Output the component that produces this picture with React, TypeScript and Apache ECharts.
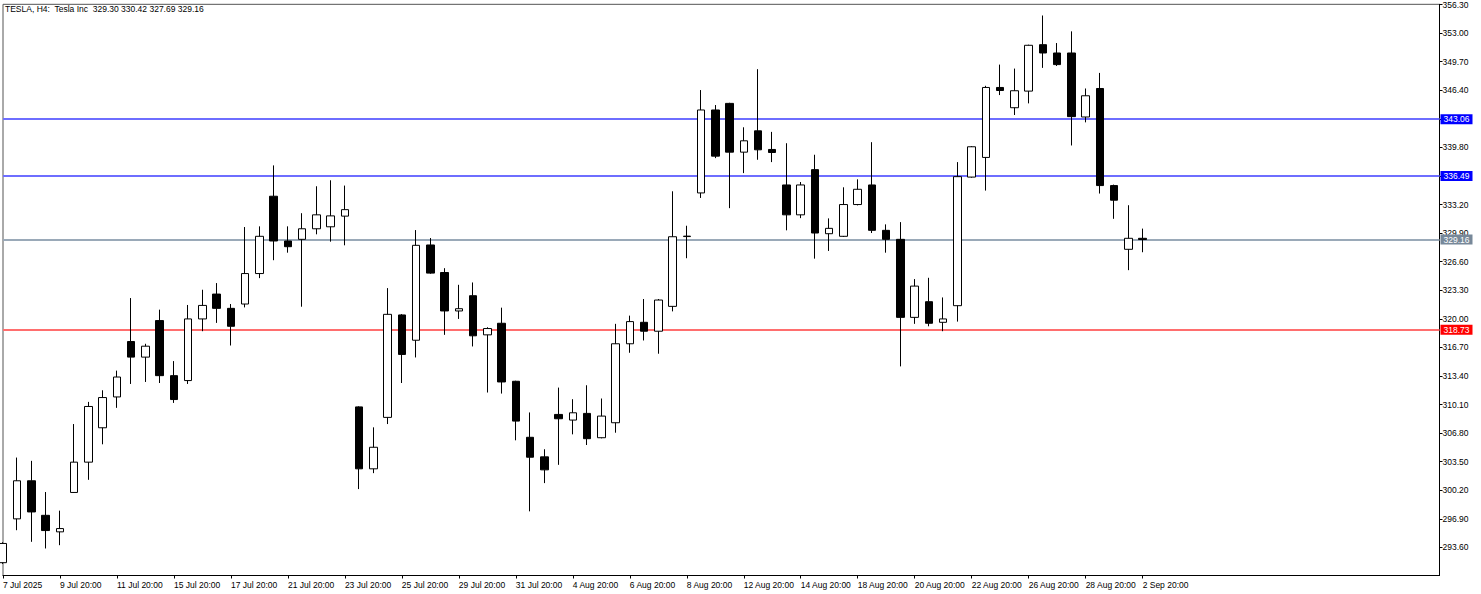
import React, { useEffect, useRef } from "react";
import * as echarts from "echarts";

// ---- Data (TESLA, H4) ----
const opens = [
  291.84, 296.9, 301.3, 297.31, 295.4, 299.95, 303.45, 307.42, 310.98, 317.38,
  315.58, 319.8, 313.44, 312.87, 319.99, 322.86, 321.21, 321.71, 325.23, 334.16,
  328.99, 329.18, 330.4, 330.63, 331.86, 309.83, 302.68, 308.62, 320.45, 317.53,
  328.53, 325.35, 320.91, 322.67, 318.15, 319.49, 312.79, 306.32, 304.06, 308.96,
  308.31, 309.08, 306.27, 308.0, 317.12, 319.6, 318.57, 321.44, 329.5, 334.54,
  344.12, 344.88, 339.25, 341.71, 339.56, 335.46, 332.01, 337.23, 329.83, 329.53,
  333.2, 335.46, 330.22, 329.18, 320.17, 321.98, 319.6, 321.52, 336.37, 338.64,
  346.72, 344.38, 346.3, 351.66, 350.7, 350.7, 343.31, 346.6, 335.39, 328.03,
  329.3,
];
const closes = [
  294.06, 301.3, 297.7, 295.55, 295.78, 303.45, 309.88, 310.91, 313.28, 315.58,
  316.84, 313.44, 310.68, 319.99, 321.55, 321.21, 319.14, 325.23, 329.53, 328.99,
  328.33, 330.4, 332.01, 331.89, 332.61, 302.68, 305.17, 320.52, 315.89, 328.49,
  325.28, 320.91, 321.17, 318.04, 318.88, 312.71, 308.19, 304.02, 302.56, 308.46,
  309.15, 306.16, 308.77, 317.12, 319.68, 318.57, 322.17, 329.48, 329.55, 344.12,
  338.79, 339.25, 340.56, 339.52, 339.21, 332.01, 335.46, 329.91, 330.45, 333.2,
  334.96, 330.22, 329.18, 320.17, 323.78, 319.49, 319.99, 336.42, 339.87, 346.72,
  346.37, 346.34, 351.59, 350.7, 349.36, 343.35, 345.76, 335.39, 333.7, 329.3,
  329.16,
];
const lows = [
  291.7, 295.59, 294.25, 293.48, 293.86, 299.9, 301.41, 305.51, 309.72, 312.48,
  312.71, 312.59, 310.29, 312.48, 318.57, 319.53, 316.92, 321.32, 324.7, 326.77,
  327.64, 321.4, 329.76, 328.91, 328.49, 300.34, 302.18, 307.85, 312.59, 315.54,
  325.2, 318.15, 319.99, 316.81, 311.49, 311.37, 305.97, 297.77, 301.03, 303.14,
  306.66, 305.43, 306.2, 306.85, 316.08, 317.5, 315.97, 320.86, 327.0, 333.96,
  338.56, 332.78, 336.83, 338.37, 338.1, 330.22, 331.63, 326.95, 327.84, 329.45,
  333.1, 329.91, 327.64, 314.51, 319.42, 319.14, 318.57, 319.68, 336.3, 334.81,
  345.84, 343.54, 344.88, 348.98, 349.2, 340.02, 342.69, 334.47, 331.55, 325.62,
  327.69,
];
const highs = [
  294.2, 303.98, 303.6, 300.0, 297.85, 307.85, 310.41, 311.75, 314.02, 322.4,
  317.12, 321.06, 315.12, 321.6, 323.36, 324.13, 321.71, 330.6, 330.68, 337.72,
  330.68, 332.2, 335.31, 336.0, 335.39, 309.9, 307.47, 323.55, 320.55, 330.25,
  329.33, 325.85, 323.93, 324.2, 319.03, 321.29, 312.85, 309.19, 304.94, 312.06,
  310.72, 312.33, 310.8, 319.42, 320.37, 322.29, 322.29, 334.73, 330.75, 346.42,
  344.69, 344.95, 342.12, 348.83, 341.59, 340.28, 335.8, 338.95, 331.6, 335.19,
  336.11, 340.4, 330.91, 331.17, 324.59, 324.74, 322.47, 338.1, 339.95, 346.91,
  349.36, 348.9, 351.66, 355.03, 351.85, 353.2, 346.6, 348.4, 335.5, 333.12,
  330.42,
];

// one label every 4 bars, starting at bar 0
const xTickLabels = [
  "7 Jul 2025", "9 Jul 20:00", "11 Jul 20:00", "15 Jul 20:00", "17 Jul 20:00",
  "21 Jul 20:00", "23 Jul 20:00", "25 Jul 20:00", "29 Jul 20:00", "31 Jul 20:00",
  "4 Aug 20:00", "6 Aug 20:00", "8 Aug 20:00", "12 Aug 20:00", "14 Aug 20:00",
  "18 Aug 20:00", "20 Aug 20:00", "22 Aug 20:00", "26 Aug 20:00", "28 Aug 20:00",
  "2 Sep 20:00",
];
const X_TICK_STEP = 4;

const yTickValues = [
  293.6, 296.9, 300.2, 303.5, 306.8, 310.1, 313.4, 316.7, 320.0, 323.3,
  326.6, 329.9, 333.2, 336.5, 339.8, 343.1, 346.4, 349.7, 353.0, 356.3,
];
const yHiddenLabels = [336.5, 343.1];

const levelValues = [343.06, 336.49, 329.16, 318.73];

// ---- Styles ----
const levelLabelColors = ["#0000ff", "#0000ff", "#778899", "#ff0000"];
const levelLineColors = ["#6e6eff", "#6e6eff", "#9aa9b8", "#ff6e6e"];
const FONT = "'Liberation Sans', Arial, sans-serif";
const FS = 8.5;

export default function App() {
  const ref = useRef<HTMLDivElement>(null);

  useEffect(() => {
    if (!ref.current) return;
    const chart = echarts.init(ref.current, undefined, { renderer: "svg" });

    const candleData = opens.map((o, i) => [i, o, closes[i], lows[i], highs[i]]);
    const xTickValues = xTickLabels.map((_, k) => k * X_TICK_STEP);
    const last = opens.length - 1;
    const titleText =
      "TESLA, H4:  Tesla Inc  " +
      [opens[last], highs[last], lows[last], closes[last]].map((v) => v.toFixed(2)).join(" ");

    chart.setOption({
      animation: false,
      backgroundColor: "#ffffff",
      textStyle: { fontFamily: FONT },
      title: {
        text: titleText,
        left: 5,
        top: 4.5,
        padding: 0,
        textStyle: { fontSize: FS, fontWeight: "normal", color: "#000", fontFamily: FONT },
      },
      grid: {
        left: 2.5,
        top: 1.5,
        right: 41.5,
        bottom: 18.5,
        show: true,
        borderColor: "#555",
        borderWidth: 1,
        backgroundColor: "#fff",
      },
      xAxis: {
        type: "value",
        min: 0,
        max: 100.84,
        splitLine: { show: false },
        axisLine: { show: true, onZero: false, lineStyle: { color: "#000", width: 1 } },
        axisTick: {
          show: true,
          length: 3,
          customValues: xTickValues,
          lineStyle: { color: "#000" },
        },
        axisLabel: {
          customValues: xTickValues,
          align: "left",
          margin: 4.5,
          fontSize: FS,
          fontFamily: FONT,
          color: "#000",
          formatter: (v: number) => xTickLabels[Math.round(v / X_TICK_STEP)] ?? "",
        },
      },
      yAxis: {
        type: "value",
        position: "right",
        min: 290.36,
        max: 356.32,
        scale: true,
        splitLine: { show: false },
        axisLine: { show: true, onZero: false, lineStyle: { color: "#000", width: 1 } },
        axisTick: {
          show: true,
          length: 3,
          customValues: yTickValues,
          lineStyle: { color: "#000" },
        },
        axisLabel: {
          customValues: yTickValues.filter((v) => !yHiddenLabels.includes(v)),
          margin: 3,
          fontSize: FS,
          fontFamily: FONT,
          color: "#000",
          formatter: (v: number) => v.toFixed(2),
        },
      },
      series: [
        {
          type: "candlestick",
          data: candleData,
          encode: { x: 0, y: [1, 2, 3, 4] },
          barWidth: 8,
          clip: true,
          z: 3,
          silent: true,
          itemStyle: {
            color: "#ffffff",
            color0: "#000000",
            borderColor: "#000000",
            borderColor0: "#000000",
            borderWidth: 1,
          },
          markLine: {
            silent: true,
            z: 1,
            symbol: ["none", "none"],
            label: {
              show: true,
              position: "end",
              distance: 1,
              color: "#fff",
              fontSize: FS,
              fontFamily: FONT,
              lineHeight: 9,
              padding: [1, 3, 0, 3],
            },
            data: levelValues.map((v, i) => ({
              yAxis: v,
              lineStyle: { color: levelLineColors[i], width: 2, type: "solid" },
              label: { formatter: v.toFixed(2), backgroundColor: levelLabelColors[i] },
            })),
          },
        },
      ],
    });

    return () => chart.dispose();
  }, []);

  return (
    <div
      ref={ref}
      style={{ position: "fixed", left: 0, top: 0, width: 1481, height: 594, background: "#fff" }}
    />
  );
}
